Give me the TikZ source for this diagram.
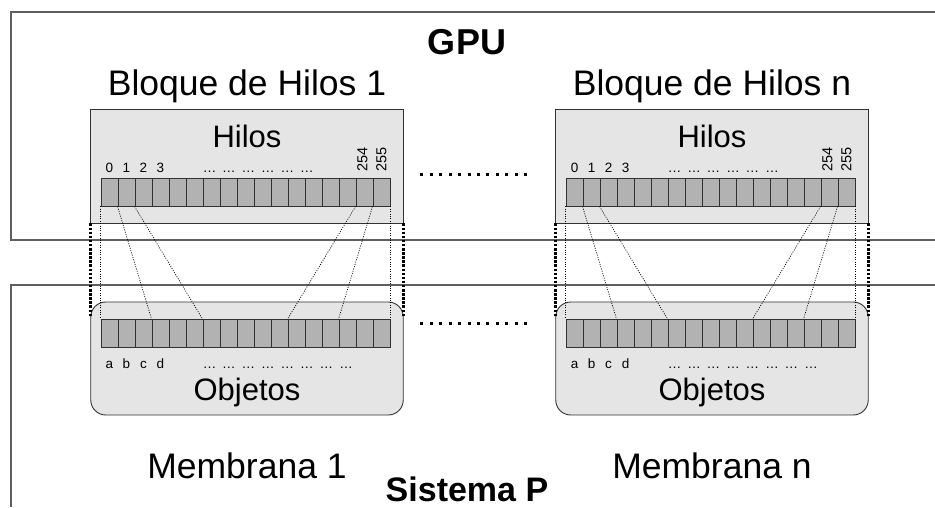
\documentclass[tikz,border=0pt]{standalone}
\usepackage{fontspec}
\setmainfont{Liberation Sans}
\usepackage{xcolor}
\usepackage{tikz}
\usetikzlibrary{positioning, calc}
\definecolor{grismarco}{RGB}{95, 95, 95}
\definecolor{grisborde}{RGB}{50, 50, 50}

\begin{document}
\begin{tikzpicture}[x=1pt, y=1pt,
    bloque/.style={rectangle, draw=grisborde, fill=gray!20, line width=0.9pt,
                   minimum width=312.5pt, minimum height=114pt, inner sep=0pt},
    membrana/.style={rectangle, draw=grisborde, fill=gray!20, line width=0.9pt, rounded corners=15pt,
                     minimum width=312.5pt, minimum height=113pt, inner sep=0pt},
    celda/.style={rectangle, draw=grisborde, fill=gray!60, line width=0.9pt,
                  minimum width=17pt, minimum height=28pt, inner sep=0pt},
    titulo/.style={font=\fontsize{35.5}{40}\selectfont, inner sep=0pt},
    rotulo/.style={font=\fontsize{31}{35}\selectfont, inner sep=0pt},
    indice/.style={font=\fontsize{13.5}{15}\selectfont, inner sep=0pt},
    sistema/.style={font=\bfseries\fontsize{34}{38}\selectfont, inner sep=0pt},
    marco/.style={draw=grismarco, line width=1.5pt},
    enlace/.style={black, line width=0.7pt, dash pattern=on 1pt off 1.4pt},
    borde/.style={black, line width=2.5pt, dash pattern=on 2.5pt off 1.6pt},
    puntos/.style={black, line width=3pt, dash pattern=on 3pt off 6.42pt},
]
    \useasboundingbox (0,0) rectangle (935,507);

    % marcos de la GPU y del sistema P
    \draw[marco] (935,495) -- (11,495) -- (11,267) -- (935,267);
    \draw[marco] (935,222) -- (11,222) -- (11,0);
    \node[sistema, font=\bfseries\fontsize{36}{40}\selectfont, anchor=base] (gpu) at (467,452) {GPU};
    \node[sistema, anchor=base] (sistema) at (467,6) {Sistema P};

    % un bloque de hilos y su membrana
    \foreach \k/\dx in {1/0, n/465} {
        \node[bloque] (bloque\k) at (247+\dx, 341) {};
        \node[membrana] (membrana\k) at (247+\dx, 148.5) {};

        \node[titulo, anchor=base] (tbloque\k) at ([yshift=13pt]bloque\k.north) {Bloque de Hilos \k};
        \node[rotulo, anchor=base] (hilos\k) at ([yshift=-39pt]bloque\k.north) {Hilos};
        \node[rotulo, anchor=base] (objetos\k) at ([yshift=15pt]membrana\k.south) {Objetos};
        \node[titulo, anchor=base] (tmembrana\k) at ([yshift=-63pt]membrana\k.south) {Membrana \k};

        \foreach \i in {0,...,16} {
            \node[celda] (h\k-\i) at (109.5+\dx+17*\i, 315) {};
            \node[celda] (o\k-\i) at (109.5+\dx+17*\i, 173.5) {};
        }

        % indices de hilos y objetos
        \foreach \i/\t in {0/0, 1/1, 2/2, 3/3} {
            \node[indice, anchor=base] (nh\k-\i) at ([yshift=5pt]h\k-\i.north) {\t};
        }
        \foreach \i/\t in {0/a, 1/b, 2/c, 3/d} {
            \node[indice, anchor=base] (no\k-\i) at ([yshift=-21pt]o\k-\i.south) {\t};
        }
        \node[indice, font=\fontsize{14.5}{16}\selectfont, rotate=90, anchor=west] (nh\k-15) at ([xshift=-2pt, yshift=6pt]h\k-15.north) {254};
        \node[indice, font=\fontsize{14.5}{16}\selectfont, rotate=90, anchor=west] (nh\k-16) at ([yshift=6pt]h\k-16.north) {255};
        \node[indice, anchor=base west] (ph\k) at ([yshift=5pt]h\k-6.north west)
            {…\hspace{6pt}…\hspace{6pt}…\hspace{6pt}…\hspace{6pt}…\hspace{6pt}…};
        \node[indice, anchor=base west] (po\k) at ([yshift=-21pt]o\k-6.south west)
            {…\hspace{6pt}…\hspace{6pt}…\hspace{6pt}…\hspace{6pt}…\hspace{6pt}…\hspace{6pt}…\hspace{6pt}…};

        % correspondencia hilo -> objeto
        \draw[enlace] (h\k-0.south west) -- (o\k-0.north west);
        \draw[enlace] (h\k-1.south west) -- (o\k-3.north west);
        \draw[enlace] (h\k-2.south west) -- (o\k-6.north west);
        \draw[enlace] (h\k-15.south west) -- (o\k-11.north west);
        \draw[enlace] (h\k-16.south west) -- (o\k-14.north west);
        \draw[enlace] (h\k-16.south east) -- (o\k-16.north east);

        \draw[borde] (bloque\k.south west) -- ([yshift=-15pt]membrana\k.north west);
        \draw[borde] (bloque\k.south east) -- ([yshift=-15pt]membrana\k.north east);
    }

    % bloques intermedios
    \draw[puntos] ($(h1-16.north east)+(30,3)$) -- ($(hn-0.north west)+(-33,3)$);
    \draw[puntos] ($(o1-16.north east)+(30,-4)$) -- ($(on-0.north west)+(-33,-4)$);
\end{tikzpicture}
\end{document}
